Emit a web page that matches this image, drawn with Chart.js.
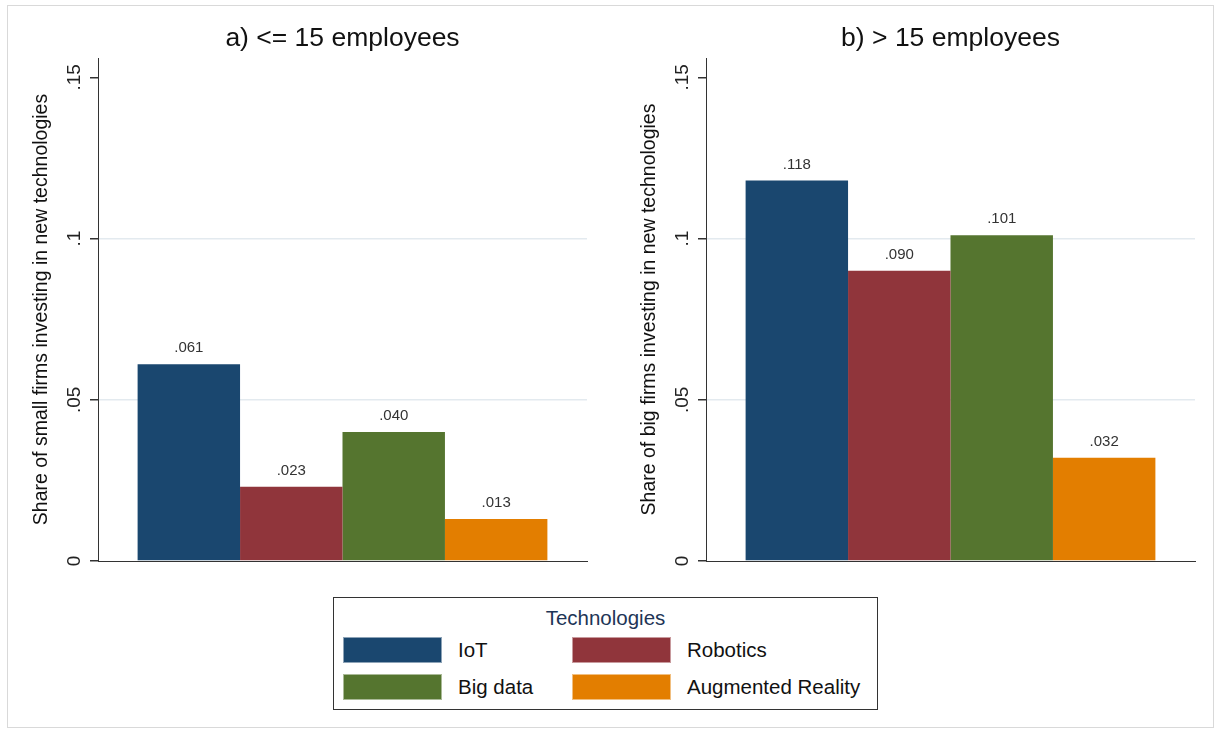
<!DOCTYPE html>
<html>
	<head>
		<meta charset="UTF-8" />
		<title>Share of firms investing in new technologies</title>
		<style type="text/css">
			body {
				margin: 0;
				background: #fff;
				font-family: "Liberation Sans", Arial, sans-serif;
			}
			.frame {
				position: absolute;
				left: 7px;
				top: 5px;
				width: 1205px;
				height: 721px;
				border: 1px solid #d9d9d9;
			}
			.chartBox {
				position: absolute;
				top: 10px;
				width: 590px;
				height: 560px;
			}
			#boxA { left: 10px; }
			#boxB { left: 618px; }
			.legend {
				position: absolute;
				left: 333px;
				top: 597px;
				width: 543px;
				height: 111px;
				border: 1px solid #333;
				background: #fff;
			}
			.legend .ttl {
				position: absolute;
				left: 0;
				width: 100%;
				top: 8px;
				text-align: center;
				font-size: 20.5px;
				color: #1e3556;
			}
			.legend .item {
				position: absolute;
				height: 26px;
				font-size: 20.5px;
				color: #111;
			}
			.legend .sw {
				position: absolute;
				left: 0;
				top: 0;
				width: 99px;
				height: 26px;
				border: 1px solid rgba(255,255,255,0.5);
				box-sizing: border-box;
			}
			.legend .lb {
				position: absolute;
				left: 115px;
				top: 1px;
				white-space: nowrap;
			}
		</style>
	</head>
	<body>
		<div class="frame"></div>
		<div class="chartBox" id="boxA">
			<canvas id="chartSmall"></canvas>
		</div>
		<div class="chartBox" id="boxB">
			<canvas id="chartBig"></canvas>
		</div>
		<div class="legend" id="legend">
			<div class="ttl">Technologies</div>
		</div>
		<script src="https://cdn.jsdelivr.net/npm/chart.js"></script>
		<script>
			//data
			const techNames = ['IoT', 'Robotics', 'Big data', 'Augmented Reality'];
			const techColors = ['#1a476f', '#90353b', '#55752f', '#e37e00'];
			const smallFirms = [0.061, 0.023, 0.040, 0.013];
			const bigFirms = [0.118, 0.090, 0.101, 0.032];
			const yTicks = [0, 0.05, 0.1, 0.15];
			const yTickLabels = ['0', '.05', '.1', '.15'];

			const FONT = '"Liberation Sans", Arial, sans-serif';

			//panel title, centered over the plot area
			const panelTitle = {
				id: 'panelTitle',
				afterDraw(chart, args, opts) {
					const ctx = chart.ctx;
					const a = chart.chartArea;
					ctx.save();
					ctx.font = '26.5px ' + FONT;
					ctx.fillStyle = '#111';
					ctx.textAlign = 'center';
					ctx.textBaseline = 'middle';
					ctx.fillText(opts.text, (a.left + a.right) / 2, 29);
					ctx.restore();
				}
			};

			//vertical tick labels and value labels on top of bars
			const labelsPlugin = {
				id: 'labelsPlugin',
				afterDatasetsDraw(chart) {
					const ctx = chart.ctx;
					const y = chart.scales.y;
					ctx.save();
					ctx.font = '19px ' + FONT;
					ctx.fillStyle = '#222';
					ctx.textAlign = 'center';
					ctx.textBaseline = 'middle';
					yTicks.forEach((v, i) => {
						ctx.save();
						ctx.translate(y.right - 23, y.getPixelForValue(v));
						ctx.rotate(-Math.PI / 2);
						ctx.fillText(yTickLabels[i], 0, 0);
						ctx.restore();
					});
					ctx.font = '15px ' + FONT;
					ctx.fillStyle = '#333';
					chart.data.datasets.forEach((ds, i) => {
						const meta = chart.getDatasetMeta(i);
						meta.data.forEach((bar, j) => {
							const txt = ds.data[j].toFixed(3).replace(/^0/, '');
							ctx.fillText(txt, bar.x, bar.y - 16);
						});
					});
					ctx.restore();
				}
			};

			function makeChart(id, title, yTitle, values) {
				const datasets = techNames.map((name, i) => ({
					label: name,
					data: [values[i]],
					backgroundColor: techColors[i],
					borderWidth: 0,
					barPercentage: 1,
					categoryPercentage: 0.838
				}));
				return new Chart(document.getElementById(id), {
					type: 'bar',
					data: { labels: [''], datasets },
					plugins: [panelTitle, labelsPlugin],
					options: {
						responsive: true,
						maintainAspectRatio: false,
						animation: false,
						layout: { padding: { top: 48, right: 13, bottom: 9, left: 0 } },
						plugins: {
							legend: { display: false },
							tooltip: { enabled: false },
							panelTitle: { text: title }
						},
						scales: {
							x: {
								ticks: { display: false },
								grid: { display: false, drawTicks: false },
								border: { color: '#333', width: 1 },
								afterFit: (s) => { s.height = 0; }
							},
							y: {
								min: 0,
								max: 0.156,
								afterBuildTicks: (s) => { s.ticks = yTicks.map(v => ({ value: v })); },
								ticks: { display: false },
								grid: {
									color: (c) => (c.tick && (c.tick.value === 0.05 || c.tick.value === 0.1)) ? '#e3eaef' : 'rgba(0,0,0,0)',
									lineWidth: 1.5,
									tickColor: '#333',
									tickLength: 8
								},
								border: { color: '#333', width: 1 },
								title: {
									display: true,
									text: yTitle,
									font: { family: FONT, size: 19.5 },
									color: '#111',
									padding: { top: 20, bottom: 0 }
								},
								afterFit: (s) => { s.width = 88; }
							}
						}
					}
				});
			}

			const chartSmall = makeChart('chartSmall', 'a) <= 15 employees',
				'Share of small firms investing in new technologies', smallFirms);
			const chartBig = makeChart('chartBig', 'b) > 15 employees',
				'Share of big firms investing in new technologies', bigFirms);

			//legend box
			const legend = document.getElementById('legend');
			const legendPos = [[9, 39], [238, 39], [9, 76], [238, 76]];
			techNames.forEach((name, i) => {
				const item = document.createElement('div');
				item.className = 'item';
				item.style.left = legendPos[i][0] + 'px';
				item.style.top = legendPos[i][1] + 'px';
				item.innerHTML = '<div class="sw" style="background:' + techColors[i] + '"></div>' +
					'<div class="lb">' + name + '</div>';
				legend.appendChild(item);
			});
		</script>
	</body>
</html>
